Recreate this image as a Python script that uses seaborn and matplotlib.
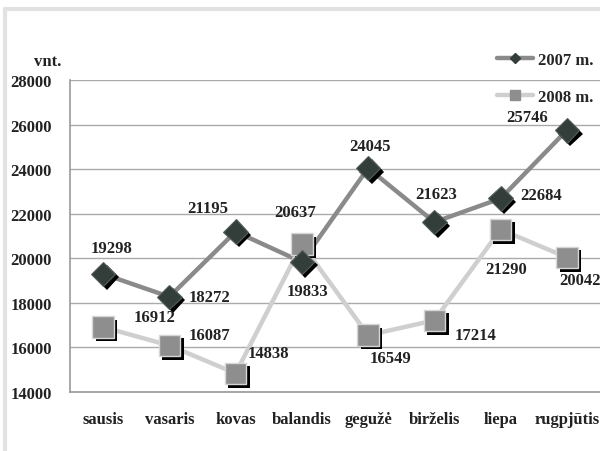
import pandas as pd
import matplotlib
matplotlib.use("Agg")
import matplotlib.pyplot as plt
import matplotlib.patheffects as pe
from matplotlib.lines import Line2D
import seaborn as sns

# data
months = ["sausis", "vasaris", "kovas", "balandis", "gegužė", "birželis", "liepa", "rugpjūtis"]
v2007 = [19298, 18272, 21195, 19833, 24045, 21623, 22684, 25746]
v2008 = [16912, 16087, 14838, 20637, 16549, 17214, 21290, 20042]
y_ticks = [14000, 16000, 18000, 20000, 22000, 24000, 26000, 28000]

# label offsets in pixels (dx, dy)
off2007 = [(8, 26), (40, 0), (-28, 24), (6, -29), (2, 22), (2, 28), (40, 3), (-40, 13)]
off2008 = [(51, 10), (40, 10), (33, 20), (-7, 32), (22, -23), (41, -15), (5, -39), (13, -23)]

df = pd.DataFrame({"month": months, "2007 m.": v2007, "2008 m.": v2008})
pos = list(range(len(months)))
df["pos"] = pos

sns.set_style("white")
plt.rcParams["font.family"] = ["Liberation Serif", "DejaVu Serif"]
plt.rcParams["font.weight"] = "bold"

fig = plt.figure(figsize=(6, 4.52), dpi=100)
ax = fig.add_axes([70 / 600, 1 - 393 / 452, 530 / 600, 312 / 452])

c07_line, c08_line = "#8a8a8a", "#cfcfcf"
c07_mark, c08_mark = "#333d3a", "#8e8e8e"
shadow = [pe.SimplePatchShadow(offset=(2.5, -2.5), shadow_rgbFace="black", alpha=1), pe.Normal()]

# lines
sns.lineplot(data=df, x="pos", y="2007 m.", ax=ax, color=c07_line, lw=3.2, zorder=3)
sns.lineplot(data=df, x="pos", y="2008 m.", ax=ax, color=c08_line, lw=3.2, zorder=3)

# markers with shadow
sns.lineplot(data=df, x="pos", y="2008 m.", ax=ax, marker="s", markersize=15.5, linestyle="",
             color=c08_mark, markeredgecolor="#d6d6d6", markeredgewidth=1.0, zorder=4)
ax.lines[-1].set_path_effects(shadow)
sns.lineplot(data=df, x="pos", y="2007 m.", ax=ax, marker="D", markersize=12.5, linestyle="",
             color=c07_mark, markeredgecolor="#55605c", markeredgewidth=0.8, zorder=5)
ax.lines[-1].set_path_effects(shadow)

# value labels
for x, y, (dx, dy) in zip(pos, v2007, off2007):
    ax.annotate(str(y), (x, y), xytext=(dx, dy), textcoords="offset pixels",
                ha="center", va="center", fontsize=12, fontweight="bold", color="#222222", zorder=6)
for x, y, (dx, dy) in zip(pos, v2008, off2008):
    ax.annotate(str(y), (x, y), xytext=(dx, dy), textcoords="offset pixels",
                ha="center", va="center", fontsize=12, fontweight="bold", color="#222222", zorder=6,
                annotation_clip=False)

# axes styling
ax.set_xlim(-0.5, len(months) - 0.5)
ax.set_ylim(14000, 28000)
ax.set_yticks(y_ticks)
ax.set_yticklabels([str(t) for t in y_ticks], fontsize=12, fontweight="bold", color="#222222")
ax.set_xticks(pos)
ax.set_xticklabels(months, fontsize=12, fontweight="bold", color="#222222")
ax.set_xticks([p - 0.5 for p in pos] + [len(months) - 0.5], minor=True)
ax.tick_params(axis="x", which="major", length=0, pad=14)
ax.tick_params(axis="x", which="minor", length=5, color="#999999", width=1)
ax.tick_params(axis="y", length=5, color="#999999", width=1, pad=8)
ax.set_xlabel("")
ax.set_ylabel("")
ax.grid(axis="y", color="#aaaaaa", lw=1)
ax.set_axisbelow(True)
for s in ["top", "right"]:
    ax.spines[s].set_visible(False)
for s in ["left", "bottom"]:
    ax.spines[s].set_color("#999999")
    ax.spines[s].set_linewidth(1.2)

fig.text(48 / 600, 1 - 62 / 452, "vnt.", ha="center", va="center", fontsize=12, fontweight="bold",
         color="#222222")

# legend
handles = [
    Line2D([], [], color=c07_line, lw=3.2, marker="D", markersize=5, markerfacecolor=c07_mark,
           markeredgecolor=c07_mark),
    Line2D([], [], color=c08_line, lw=3.2, marker="s", markersize=7, markerfacecolor=c08_mark,
           markeredgecolor=c08_mark),
]
fig.legend(handles, ["2007 m.", "2008 m."], loc="upper left", bbox_to_anchor=(490 / 600, 1 - 46 / 452),
           frameon=False, handlelength=2.2, handletextpad=0.3, labelspacing=1.25,
           borderaxespad=0, borderpad=0.4, prop={"weight": "bold", "size": 12})

# outer frame
fig.add_artist(Line2D([5 / 600, 5 / 600], [0, 1 - 10 / 452], color="#e2e2e2", lw=3))
fig.add_artist(Line2D([5 / 600, 1], [1 - 10 / 452, 1 - 10 / 452], color="#e2e2e2", lw=3))

fig.savefig("out.png", dpi=100)
